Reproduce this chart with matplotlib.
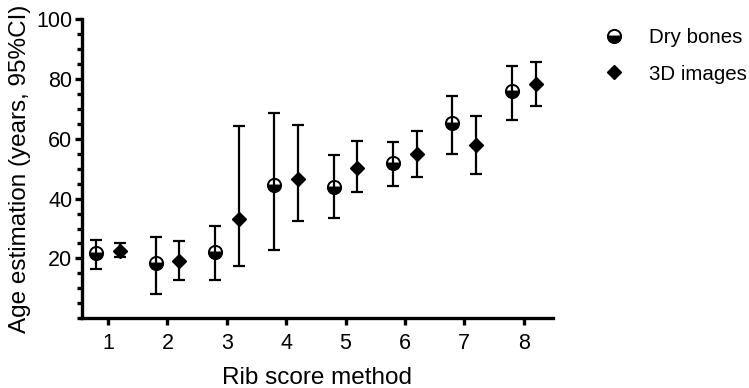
import numpy as np
import matplotlib.pyplot as plt
from matplotlib.lines import Line2D
from matplotlib.ticker import MultipleLocator

plt.rcParams['font.family'] = ['Liberation Sans', 'DejaVu Sans']

scores = [1, 2, 3, 4, 5, 6, 7, 8]

# dry bones: mean, lower and upper 95% CI
dry_mean = [21.7, 18.4, 22.1, 44.5, 43.9, 51.8, 65.3, 76.2]
dry_low = [16.5, 8.1, 12.9, 22.8, 33.5, 44.3, 54.8, 66.4]
dry_high = [26.2, 27.3, 30.9, 68.8, 54.5, 59.1, 74.5, 84.4]

# 3D images
img_mean = [22.6, 19.2, 33.2, 46.7, 50.4, 54.8, 57.8, 78.4]
img_low = [20.4, 12.9, 17.6, 32.4, 42.3, 47.3, 48.1, 70.9]
img_high = [25.3, 25.9, 64.2, 64.8, 59.3, 62.5, 67.7, 85.6]

x = np.array(scores, dtype=float)
xd = x - 0.2
xi = x + 0.2

fig = plt.figure(figsize=(7.49, 3.88), dpi=100)
ax = fig.add_axes([0.1095, 0.180, 0.6285, 0.770])

lw = 1.6

# markers first, error bars on top (like GraphPad draws them)
ax.plot(xd, dry_mean, linestyle='none', marker='o', markersize=9.5,
        fillstyle='bottom', markerfacecolor='black',
        markerfacecoloralt='white', markeredgecolor='black',
        markeredgewidth=1.4, zorder=2)
ax.plot(xi, img_mean, linestyle='none', marker='D', markersize=7.5,
        color='black', zorder=2)

dry_err = [np.array(dry_mean) - np.array(dry_low),
           np.array(dry_high) - np.array(dry_mean)]
img_err = [np.array(img_mean) - np.array(img_low),
           np.array(img_high) - np.array(img_mean)]
ax.errorbar(xd, dry_mean, yerr=dry_err, fmt='none', ecolor='black',
            elinewidth=lw, capsize=4.5, capthick=lw, zorder=3)
ax.errorbar(xi, img_mean, yerr=img_err, fmt='none', ecolor='black',
            elinewidth=lw, capsize=4.5, capthick=lw, zorder=3)

ax.set_xlim(0.56, 8.49)
ax.set_ylim(0, 100)
ax.set_xticks(scores)
ax.yaxis.set_major_locator(MultipleLocator(20))
ax.yaxis.set_minor_locator(MultipleLocator(5))
ax.set_yticks([20, 40, 60, 80, 100])

for s in ['top', 'right']:
    ax.spines[s].set_visible(False)
for s in ['left', 'bottom']:
    ax.spines[s].set_linewidth(2.4)

ax.tick_params(axis='both', which='major', length=5, width=2.4,
               labelsize=15.5)
ax.tick_params(axis='x', which='major', pad=6)
ax.tick_params(axis='y', which='major', pad=2)
ax.tick_params(axis='y', which='minor', length=3.5, width=2.4)

ax.set_xlabel('Rib score method', fontsize=17.5, labelpad=9)
ax.set_ylabel('Age estimation (years, 95%CI)', fontsize=17.5, labelpad=4)

handles = [
    Line2D([], [], linestyle='none', marker='o', markersize=9.5,
           fillstyle='bottom', markerfacecolor='black',
           markerfacecoloralt='white', markeredgecolor='black',
           markeredgewidth=1.4),
    Line2D([], [], linestyle='none', marker='D', markersize=7.5,
           color='black'),
]
fig.legend(handles, ['Dry bones', '3D images'], loc='upper left',
           bbox_to_anchor=(0.782, 0.975), frameon=False, fontsize=14.8,
           handlelength=1.0, handletextpad=1.2, labelspacing=0.85)

fig.savefig('out.png', dpi=100)
